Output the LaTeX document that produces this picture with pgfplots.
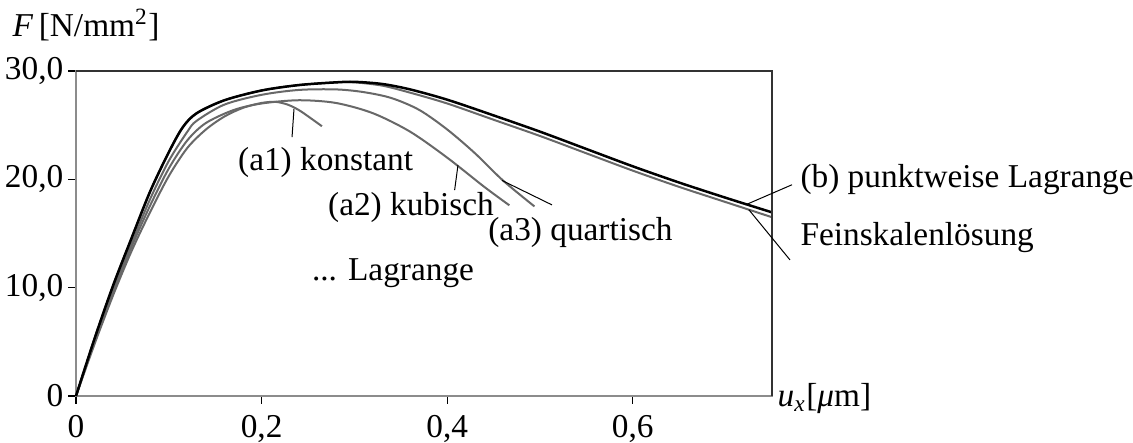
\documentclass[border=0pt]{standalone}
\usepackage{fontspec}
\setmainfont{Liberation Serif}
\usepackage{pgfplots}
\pgfplotsset{compat=1.18}
\definecolor{curve}{HTML}{686868}
\begin{document}
\fontsize{10}{12}\selectfont
\begin{tikzpicture}
\useasboundingbox (-22.8pt,-14.1pt) rectangle (317.1pt,118.8pt);
\begin{axis}[
  scale only axis, width=208.8pt, height=97.5pt,
  xmin=0, xmax=0.75, ymin=0, ymax=30,
  xtick={0,0.2,0.4,0.6}, xticklabels={0,{0,2},{0,4},{0,6}},
  ytick={0,10,20,30}, yticklabels={0,{10,0},{20,0},{30,0}},
  tick align=outside, major tick length=2.4pt,
  xtick pos=bottom, ytick pos=left,
  tick style={black, line width=0.35pt},
  axis line style={draw=black!45, line width=0.45pt},
  yticklabel style={inner sep=1.2pt},
  clip=false,
]
% (a1) konstant
\addplot[curve, line width=0.6pt, smooth] coordinates {
 (0,0) (0.02,4.8) (0.04,9.3) (0.06,13.4) (0.08,17.0) (0.10,20.3) (0.12,22.9)
 (0.14,24.6) (0.16,25.8) (0.18,26.6) (0.20,27.05) (0.215,27.15) (0.228,26.9)
 (0.24,26.4) (0.252,25.7) (0.265,24.9)};
% (a2) kubisch
\addplot[curve, line width=0.6pt, smooth] coordinates {
 (0,0) (0.02,5.0) (0.04,9.6) (0.06,13.8) (0.08,17.6) (0.10,21.0) (0.12,23.6)
 (0.14,25.2) (0.17,26.4) (0.20,27.0) (0.24,27.3) (0.28,27.05) (0.32,26.1)
 (0.36,24.4) (0.40,22.0) (0.44,19.3) (0.467,17.6)};
% (a3) quartisch
\addplot[curve, line width=0.6pt, smooth] coordinates {
 (0,0) (0.02,5.1) (0.04,9.8) (0.06,14.1) (0.08,18.2) (0.10,21.7) (0.12,24.4)
 (0.13,25.4) (0.16,26.9) (0.20,27.8) (0.24,28.25) (0.28,28.3) (0.31,28.05)
 (0.34,27.5) (0.37,26.4) (0.40,24.6) (0.43,22.4) (0.46,19.9) (0.494,17.5)};
% Feinskalenloesung
\addplot[curve, line width=0.6pt, smooth] coordinates {
 (0,0) (0.02,5.3) (0.04,10.2) (0.06,14.6) (0.08,18.9) (0.10,22.5) (0.115,24.8)
 (0.13,26.1) (0.16,27.3) (0.20,28.2) (0.24,28.7) (0.28,28.95) (0.30,28.95)
 (0.33,28.65) (0.36,28.0) (0.40,27.0) (0.45,25.5) (0.50,24.0) (0.55,22.4)
 (0.60,20.8) (0.65,19.3) (0.70,17.9) (0.75,16.5)};
% (b) punktweise Lagrange
\addplot[black, line width=0.75pt, smooth] coordinates {
 (0,0) (0.02,5.3) (0.04,10.2) (0.06,14.6) (0.08,18.9) (0.10,22.5) (0.115,24.8)
 (0.13,26.1) (0.16,27.3) (0.20,28.2) (0.24,28.7) (0.28,28.95) (0.30,29.0)
 (0.33,28.8) (0.36,28.3) (0.40,27.35) (0.45,25.9) (0.50,24.4) (0.55,22.8)
 (0.60,21.2) (0.65,19.7) (0.70,18.3) (0.75,16.95)};
\draw[black!80, line width=0.45pt] (rel axis cs:0,1) -- (rel axis cs:1,1) -- (rel axis cs:1,0);
% leaders
\draw[black, line width=0.3pt] (axis cs:0.2328,23.9) -- (axis cs:0.2349,26.5);
\draw[black, line width=0.3pt] (axis cs:0.408,19.0) -- (axis cs:0.4116,21.3);
\draw[black, line width=0.3pt] (axis cs:0.5129,17.64) -- (axis cs:0.459,19.9);
\draw[black, line width=0.3pt] (axis cs:0.7716,19.5) -- (axis cs:0.723,17.7);
\draw[black, line width=0.3pt] (axis cs:0.7694,12.56) -- (axis cs:0.725,17.2);
% labels
\node at (axis cs:0.269,21.6) {(a1) konstant};
\node at (axis cs:0.361,17.36) {(a2) kubisch};
\node at (axis cs:0.5436,15.05) {(a3) quartisch};
\node at (axis cs:0.3416,11.36) {... Lagrange};
\node[anchor=west, inner sep=0pt] at (axis cs:0.780,19.95) {(b) punktweise Lagrange};
\node[anchor=west, inner sep=0pt] at (axis cs:0.780,14.6) {Feinskalenlösung};
\node[anchor=west, inner sep=0pt] at (axis cs:-0.069,34.26) {\textit{F}\,[N/mm\textsuperscript{2}]};
\node[anchor=west, inner sep=0pt] at (axis cs:0.7554,-0.2) {\textit{u}\textsubscript{\textit{x}}[\textit{μ}m]};
\end{axis}
\end{tikzpicture}
\end{document}
